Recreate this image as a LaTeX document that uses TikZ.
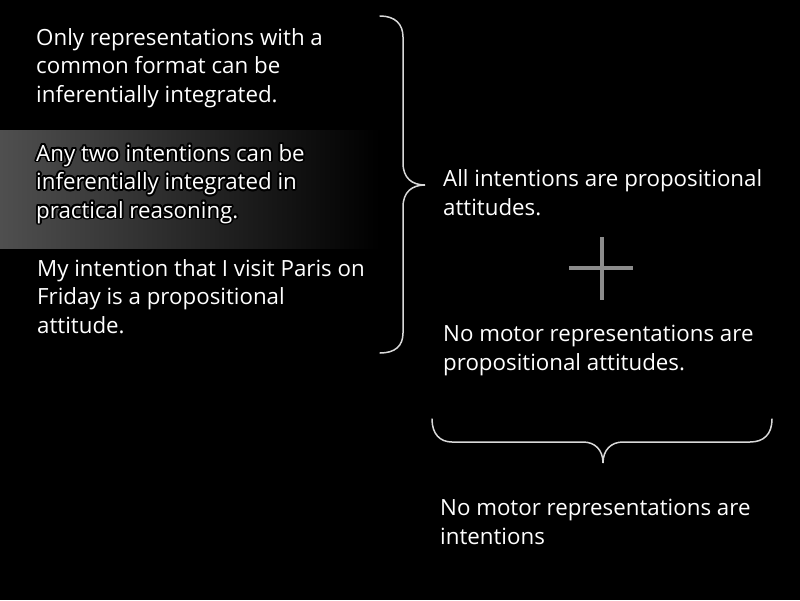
\documentclass[tikz,border=0pt]{standalone}
\usepackage{fontspec}
\setmainfont{Open Sans}
\usepackage{contour}
\usetikzlibrary{positioning}
\begin{document}
\begin{tikzpicture}
[x=1pt,y=-1pt,
   txt/.style={anchor=base west,inner sep=0pt,align=left,text=white,
     font=\fontsize{22.3}{28.5}\selectfont},
   brace/.style={draw=white!85!black,line width=1.5pt,line cap=round},
   plus/.style={draw=white!55!black,line width=4pt}]
\useasboundingbox[fill=black] (0,0) rectangle (800,600);
\shade[left color=black!69,right color=black] (0,130) rectangle (380,248);
\contourlength{1.8pt}
\node[txt] (common) at (36,102) {Only representations with a\\common format can be\\inferentially integrated.};
\node[txt] (anytwo) at (36,218) {\contour{black}{Any two intentions can be}\\\contour{black}{inferentially integrated in}\\\contour{black}{practical reasoning.}};
\node[txt] (paris) at (37,333) {My intention that I visit Paris on\\Friday is a propositional\\attitude.};
\node[txt] (allint) at (443,215) {All intentions are propositional\\attitudes.};
\node[txt] (nomotor) at (443,370) {No motor representations are\\propositional attitudes.};
\node[txt] (concl) at (440,544) {No motor representations are\\intentions};
\draw[brace] (380,16) .. controls (395,16) and (403,24) .. (403,37) -- (403,163)
   .. controls (403,178) and (412,185) .. (425,185)
   .. controls (412,185) and (403,192) .. (403,207) -- (403,333)
   .. controls (403,346) and (395,353) .. (380,353);
\draw[brace] (432,419) .. controls (432,434) and (440,442) .. (452,442) -- (583,442)
   .. controls (595,442) and (603,450) .. (603,463)
   .. controls (603,450) and (611,442) .. (623,442) -- (750,442)
   .. controls (764,442) and (772,434) .. (772,419);
\draw[plus] (602,237) -- (602,300) (569,268) -- (633,268);
\end{tikzpicture}
\end{document}
